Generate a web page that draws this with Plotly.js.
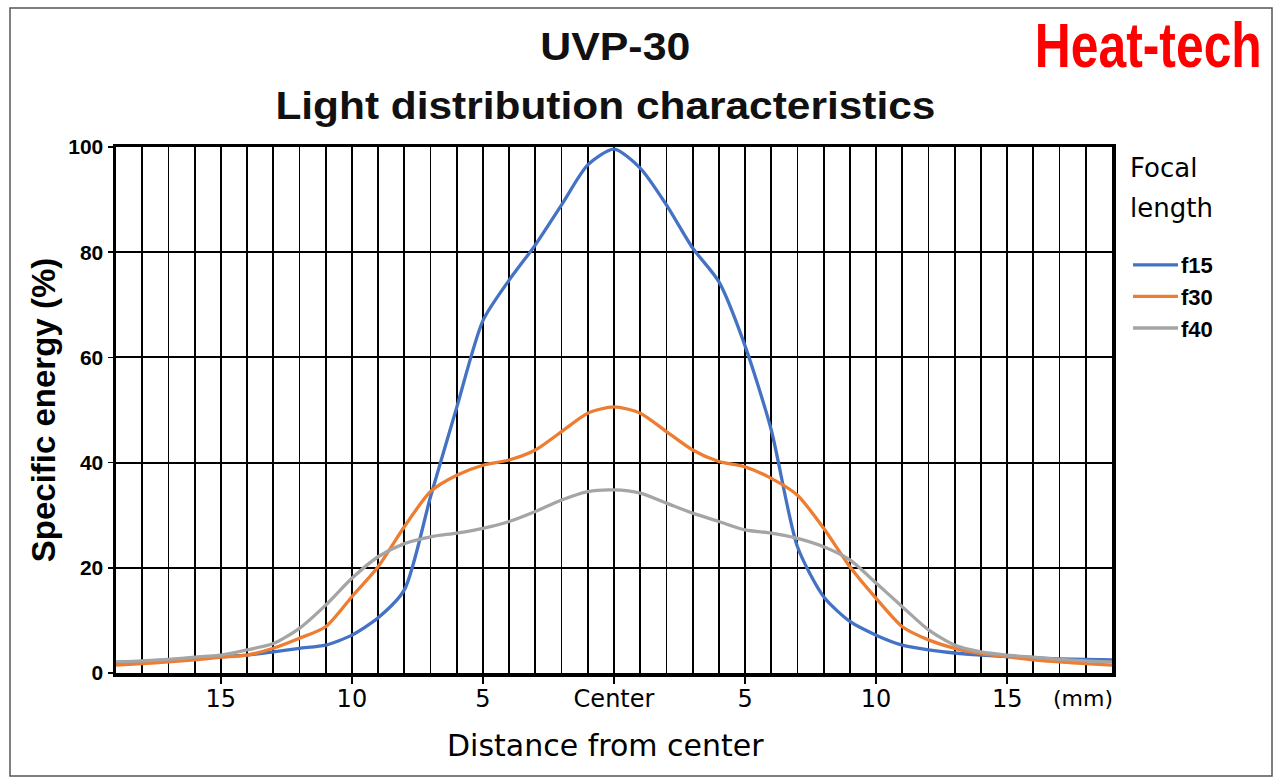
<!DOCTYPE html>
<html>
<head>
<meta charset="utf-8">
<script src="https://cdn.plot.ly/plotly-3.0.1.min.js"></script>
<style>
html,body{margin:0;padding:0;background:#fff;}
#chart{width:1276px;height:778px;}
</style>
</head>
<body>
<div id="chart"></div>
<script>
// Distance from center (mm), -19 .. 19
const distance = [-19,-18,-17,-16,-15,-14,-13,-12,-11,-10,-9,-8,-7,-6,-5,-4,-3,-2,-1,0,1,2,3,4,5,6,7,8,9,10,11,12,13,14,15,16,17,18,19];
// Specific energy (%)
const f15 = [2.0,2.2,2.5,2.8,3.1,3.4,4.0,4.7,5.3,7.2,10.5,15.8,33.5,50.5,67.0,74.7,81.4,89.0,96.6,99.6,96.0,89.0,80.8,74.4,62.2,46.2,24.0,14.5,9.8,7.2,5.3,4.4,3.8,3.4,3.1,2.9,2.7,2.6,2.5];
const f30 = [1.5,1.8,2.1,2.5,3.0,3.4,4.7,6.6,8.8,14.5,20.2,27.8,34.5,37.6,39.5,40.5,42.4,45.9,49.4,50.6,49.4,45.9,42.4,40.2,39.2,37.0,33.8,27.5,20.2,14.2,8.8,6.3,4.7,3.7,3.1,2.5,2.1,1.8,1.5];
const f40 = [2.1,2.3,2.6,3.0,3.4,4.4,5.6,8.5,12.9,18.0,22.1,24.6,25.9,26.6,27.5,28.8,30.7,32.9,34.5,34.8,34.2,32.3,30.4,28.8,27.2,26.6,25.6,24.0,21.5,17.1,12.6,8.2,5.3,4.0,3.4,3.0,2.6,2.3,2.1];
const seriesNames = ["f15","f30","f40"];
const tickVals = [-15,-10,-5,0,5,10,15];
const tickText = ["15","10","5","Center","5","10","15"];
const yTicks = [0,20,40,60,80,100];

const colors = ["#4472C4","#ED7D31","#A5A5A5"];
const data = [f15,f30,f40].map((ys,i)=>({
  x: distance, y: ys, type:"scatter", mode:"lines", name: seriesNames[i],
  line:{color:colors[i], width:3.3, shape:"spline", smoothing:0.7},
  hoverinfo:"x+y"
}));

const L=116, R=1112, T=147, B=673;
const W=R-L, H=B-T;
const px = v => (v-L)/W;
const py = v => (B-v)/H;

const layout = {
  width:1276, height:778,
  margin:{l:L, r:1276-R, t:T, b:778-B, pad:0},
  paper_bgcolor:"#ffffff", plot_bgcolor:"#ffffff",
  showlegend:true,
  font:{family:"Liberation Sans, Arial, sans-serif", color:"#000"},
  xaxis:{
    range:[-19,19], tickmode:"array", tickvals:tickVals, ticktext:tickText,
    ticks:"outside", ticklen:7, tickwidth:1.5, tickcolor:"#000",
    ticklabelstandoff:-5,
    showgrid:true, gridcolor:"#000", gridwidth:1.8,
    minor:{dtick:1, tick0:0, showgrid:true, gridcolor:"#000", gridwidth:1.8, ticks:""},
    showline:true, linecolor:"#000", linewidth:3.5, mirror:true,
    zeroline:false, fixedrange:true,
    tickfont:{family:"DejaVu Sans, sans-serif", size:24, color:"#000"}
  },
  yaxis:{
    range:[0,100], tickmode:"array", tickvals:yTicks,
    ticks:"outside", ticklen:5, tickwidth:1.5, tickcolor:"#000",
    showgrid:true, gridcolor:"#000", gridwidth:1.8,
    showline:true, linecolor:"#000", linewidth:3.5, mirror:true,
    zeroline:false, fixedrange:true,
    tickfont:{family:"Liberation Sans, Arial, sans-serif", size:21, color:"#000", weight:"bold"},
    title:{text:"Specific energy (%)", font:{family:"Liberation Sans, Arial, sans-serif", size:33, color:"#000", weight:"bold"}, standoff:3}
  },
  legend:{
    x:px(1128), y:py(244), xanchor:"left", yanchor:"top",
    bgcolor:"rgba(0,0,0,0)", borderwidth:0,
    font:{family:"Liberation Sans, Arial, sans-serif", size:22, color:"#000", weight:"bold"},
    itemwidth:30, tracegroupgap:0
  },
  annotations:[
    {text:"UVP-30", xref:"paper", yref:"paper", x:px(615), y:py(47), xanchor:"center", yanchor:"middle", showarrow:false,
     font:{family:"Liberation Sans, Arial, sans-serif", size:39, color:"#111", weight:"bold"}},
    {text:"Light distribution characteristics", xref:"paper", yref:"paper", x:px(605), y:py(106), xanchor:"center", yanchor:"middle", showarrow:false,
     font:{family:"Liberation Sans, Arial, sans-serif", size:39, color:"#111", weight:"bold"}},
    {text:"Heat-tech", xref:"paper", yref:"paper", x:px(1148), y:py(46), xanchor:"center", yanchor:"middle", showarrow:false,
     font:{family:"Liberation Sans, Arial, sans-serif", size:55, color:"#FF0000", weight:"bold"}},
    {text:"(mm)", xref:"x", yref:"paper", x:17.9, y:py(698), xanchor:"center", yanchor:"middle", showarrow:false,
     font:{family:"DejaVu Sans, sans-serif", size:22, color:"#000"}},
    {text:"Distance from center", xref:"paper", yref:"paper", x:px(605), y:py(745), xanchor:"center", yanchor:"middle", showarrow:false,
     font:{family:"DejaVu Sans, sans-serif", size:30, color:"#000"}},
    {text:"Focal", xref:"paper", yref:"paper", x:px(1128), y:py(168), xanchor:"left", yanchor:"middle", showarrow:false,
     font:{family:"DejaVu Sans, sans-serif", size:26, color:"#000"}},
    {text:"length", xref:"paper", yref:"paper", x:px(1128), y:py(208), xanchor:"left", yanchor:"middle", showarrow:false,
     font:{family:"DejaVu Sans, sans-serif", size:26, color:"#000"}}
  ],
  shapes:[
    {type:"rect", xref:"paper", yref:"paper", x0:px(10), x1:px(1272), y0:py(776), y1:py(8),
     line:{color:"#555", width:1.5}, fillcolor:"rgba(0,0,0,0)", layer:"below"}
  ]
};

// target text widths (px) and vertical stretch for titles, matched to the reference lettering
const textWidths = {"Heat-tech":227, "UVP-30":150, "Light distribution characteristics":660};
const textStretch = {"Heat-tech":1.13};

Plotly.newPlot("chart", data, layout, {displayModeBar:false, staticPlot:true}).then(gd=>{
  gd.querySelectorAll(".annotation-text").forEach(t=>{
    const w = textWidths[t.textContent];
    if (w) { t.setAttribute("textLength", w); t.setAttribute("lengthAdjust","spacingAndGlyphs"); }
    const s = textStretch[t.textContent];
    if (s) {
      const bb = t.getBBox(); const cy = bb.y + bb.height/2;
      t.setAttribute("transform", `translate(0 ${cy}) scale(1 ${s}) translate(0 ${-cy})`);
    }
  });
  // longer legend line samples, as in the reference
  const sb = gd.querySelector(".legend .scrollbox");
  if (sb) sb.removeAttribute("clip-path");
  gd.querySelectorAll(".legend .traces").forEach(tr=>{
    tr.querySelectorAll(".legendlines path").forEach(p=>p.setAttribute("d","M5,0h45"));
    const tx = tr.querySelector("text.legendtext");
    if (tx) tx.setAttribute("x", 53);
  });
});
</script>
</body>
</html>
